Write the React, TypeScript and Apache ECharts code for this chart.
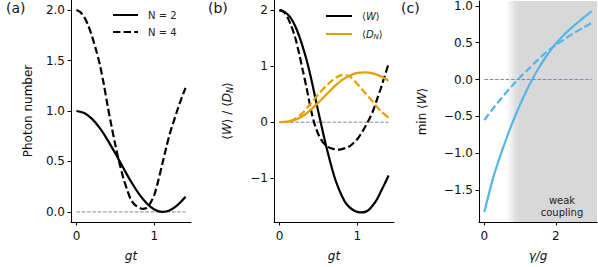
import React, { useEffect, useRef } from "react";
import * as echarts from "echarts";

// ---- data ----
const gtCoarse = [0, 0.1, 0.2, 0.3, 0.4, 0.5, 0.6, 0.7, 0.8, 0.9, 1.0, 1.1, 1.2, 1.3, 1.4];
const gtFine = [
  0, 0.05, 0.1, 0.15, 0.2, 0.25, 0.3, 0.35, 0.4, 0.45, 0.5, 0.55, 0.6, 0.65, 0.7,
  0.75, 0.8, 0.85, 0.9, 0.95, 1.0, 1.05, 1.1, 1.15, 1.2, 1.25, 1.3, 1.35, 1.4,
];

// (a) photon number
const photonN2 = [1.0, 0.98, 0.922, 0.83, 0.712, 0.578, 0.437, 0.301, 0.181, 0.086, 0.024, 0.0, 0.016, 0.07, 0.15];
const photonN4 = [
  2.0, 1.98, 1.93, 1.85, 1.74, 1.61, 1.46, 1.27, 1.05, 0.85, 0.66, 0.49, 0.34, 0.22, 0.12,
  0.07, 0.045, 0.03, 0.04, 0.09, 0.17, 0.31, 0.47, 0.63, 0.78, 0.9, 1.02, 1.13, 1.23,
];

// (b) <W> (fine grid) and <D_N> (coarse grid)
const wN2 = [
  2.0, 1.98, 1.93, 1.85, 1.72, 1.55, 1.34, 1.1, 0.82, 0.5, 0.18, -0.13, -0.43, -0.7, -0.95,
  -1.15, -1.31, -1.44, -1.52, -1.57, -1.6, -1.61, -1.6, -1.56, -1.48, -1.38, -1.24, -1.1, -0.95,
];
const wN4 = [
  2.0, 1.97, 1.88, 1.72, 1.52, 1.24, 0.92, 0.6, 0.25, -0.03, -0.22, -0.34, -0.42, -0.46, -0.48,
  -0.49, -0.48, -0.46, -0.43, -0.37, -0.3, -0.2, -0.08, 0.05, 0.2, 0.4, 0.6, 0.82, 1.04,
];
const dN2 = [0, 0.01, 0.04, 0.11, 0.22, 0.35, 0.49, 0.63, 0.75, 0.83, 0.88, 0.89, 0.87, 0.82, 0.74];
const dN4 = [0, 0.01, 0.06, 0.17, 0.33, 0.5, 0.65, 0.77, 0.84, 0.82, 0.68, 0.52, 0.36, 0.2, 0.08];

// (c) min <W> vs gamma/g
const gammaX = [0, 0.25, 0.5, 0.75, 1.0, 1.25, 1.5, 1.75, 2.0, 2.25, 2.5, 2.75, 3.0];
const minWN2 = [-1.8, -1.33, -0.96, -0.63, -0.34, -0.08, 0.14, 0.33, 0.49, 0.62, 0.73, 0.83, 0.93];
const minWN4 = [-0.55, -0.39, -0.24, -0.1, 0.03, 0.15, 0.27, 0.38, 0.47, 0.55, 0.63, 0.7, 0.77];

const weakStart = 0.93;
const fadeStart = 0.62;

// ---- ticks ----
const ticksA = [0, 0.5, 1, 1.5, 2];
const ticksB = [-1, 0, 1, 2];
const ticksC = [-1.5, -1, -0.5, 0, 0.5, 1];
const ticksGt = [0, 1];
const ticksGamma = [0, 2];

const pairs = (xs: number[], ys: number[]) => xs.map((x, i) => [x, ys[i]]);
const minus = (s: string) => s.replace("-", "\u2212");

const FONT = "DejaVu Sans";
const BLACK = "#000000";
const ORANGE = "#E69F00";
const BLUE = "#56B4E9";
const ZERO = "#7a8ba8";

export default function App() {
  const ref = useRef<HTMLDivElement>(null);

  useEffect(() => {
    if (!ref.current) return;
    const chart = echarts.init(ref.current, undefined, { renderer: "svg" });

    const axisBase = {
      axisLine: { show: true, onZero: false, lineStyle: { color: BLACK, width: 1 } },
      axisTick: { show: true, length: 3.5, lineStyle: { color: BLACK, width: 1 } },
      splitLine: { show: false },
    };
    const labelBase = { fontSize: 12, color: "#111", fontFamily: FONT };

    const xAxisOf = (idx: number, min: number, max: number, ticks: number[], name: string) => ({
      type: "value",
      gridIndex: idx,
      min,
      max,
      ...axisBase,
      axisTick: { ...axisBase.axisTick, customValues: ticks },
      axisLabel: { ...labelBase, margin: 8, customValues: ticks, formatter: (v: number) => minus(String(v)) },
      name,
      nameLocation: "middle",
      nameGap: 28,
      nameTextStyle: { fontSize: 12, fontStyle: "italic", fontFamily: FONT, color: "#111" },
    });

    const yAxisOf = (
      idx: number,
      min: number,
      max: number,
      ticks: number[],
      fmt: (v: number) => string,
      name: string,
      gap: number
    ) => ({
      type: "value",
      gridIndex: idx,
      min,
      max,
      ...axisBase,
      axisTick: { ...axisBase.axisTick, customValues: ticks },
      axisLabel: { ...labelBase, margin: 6, customValues: ticks, formatter: fmt },
      name,
      nameLocation: "middle",
      nameGap: gap,
      nameTextStyle: {
        fontSize: 12,
        fontFamily: FONT,
        color: "#111",
        rich: {
          i: { fontSize: 12, fontStyle: "italic", fontFamily: FONT, color: "#111" },
          s: { fontSize: 8, fontStyle: "italic", fontFamily: FONT, color: "#111", verticalAlign: "bottom", padding: [6, 0, 0, 0] },
        },
      },
    });

    const line = (name: string, x: number, data: number[][], color: string, dashed: boolean) => ({
      name,
      type: "line",
      xAxisIndex: x,
      yAxisIndex: x,
      data,
      showSymbol: false,
      symbol: "none",
      smooth: 0.3,
      z: 3,
      lineStyle: { color, width: 2.2, type: dashed ? [7.4, 3.2] : "solid" },
      itemStyle: { color },
    });

    const zeroLine = (x: number, xmax: number, extra: any = {}) => ({
      name: "zero" + x,
      type: "line",
      xAxisIndex: x,
      yAxisIndex: x,
      data: [
        [0, 0],
        [xmax, 0],
      ],
      showSymbol: false,
      symbol: "none",
      z: 2,
      silent: true,
      lineStyle: { color: ZERO, width: 1, type: [3.7, 1.6] },
      ...extra,
    });

    const legendText = { fontSize: 10, fontFamily: FONT, color: "#222", padding: [0, 0, 0, 5] };

    chart.setOption({
      animation: false,
      textStyle: { fontFamily: FONT },
      grid: [
        { left: 71, top: 0, width: 120, height: 224 },
        { left: 274, top: 0, width: 120, height: 224 },
        { left: 479, top: 0, width: 118, height: 224 },
      ],
      xAxis: [
        xAxisOf(0, -0.07, 1.47, ticksGt, "gt"),
        xAxisOf(1, -0.07, 1.47, ticksGt, "gt"),
        xAxisOf(2, -0.15, 3.15, ticksGamma, "\u03b3/g"),
      ],
      yAxis: [
        yAxisOf(0, -0.1, 2.1, ticksA, (v) => v.toFixed(1), "Photon number", 37),
        yAxisOf(1, -1.78, 2.18, ticksB, (v) => minus(String(v)), "\u27e8{i|W}\u27e9 / \u27e8{i|D}{s|N}\u27e9", 40),
        yAxisOf(2, -1.9365, 1.0665, ticksC, (v) => minus(v.toFixed(1)), "min \u27e8{i|W}\u27e9", 51),
      ],
      legend: [
        {
          data: ["N = 2", "N = 4"],
          orient: "vertical",
          left: 112,
          top: 10,
          padding: 0,
          itemWidth: 25,
          itemHeight: 10,
          itemGap: 7,
          itemStyle: { opacity: 0 },
          textStyle: legendText,
        },
        {
          data: ["\u27e8W\u27e9", "\u27e8D_N\u27e9"],
          orient: "vertical",
          left: 325,
          top: 11,
          padding: 0,
          itemWidth: 26,
          itemHeight: 10,
          itemGap: 8,
          itemStyle: { opacity: 0 },
          formatter: (n: string) => (n === "\u27e8W\u27e9" ? "\u27e8{i|W}\u27e9" : "\u27e8{i|D}{s|N}\u27e9"),
          textStyle: {
            ...legendText,
            rich: {
              i: { fontSize: 10, fontStyle: "italic", fontFamily: FONT, color: "#222" },
              s: { fontSize: 7, fontStyle: "italic", fontFamily: FONT, color: "#222", verticalAlign: "bottom", padding: [5, 0, 0, 0] },
            },
          },
        },
      ],
      series: [
        zeroLine(0, 1.4),
        line("N = 2", 0, pairs(gtCoarse, photonN2), BLACK, false),
        line("N = 4", 0, pairs(gtFine, photonN4), BLACK, true),

        zeroLine(1, 1.4),
        line("\u27e8W\u27e9", 1, pairs(gtFine, wN2), BLACK, false),
        line("W4", 1, pairs(gtFine, wN4), BLACK, true),
        line("\u27e8D_N\u27e9", 1, pairs(gtCoarse, dN2), ORANGE, false),
        line("D4", 1, pairs(gtCoarse, dN4), ORANGE, true),

        zeroLine(2, 3.0, {
          markArea: {
            silent: true,
            data: [
              [
                {
                  xAxis: fadeStart,
                  itemStyle: {
                    color: new echarts.graphic.LinearGradient(0, 0, 1, 0, [
                      { offset: 0, color: "rgba(216,216,216,0)" },
                      { offset: 1, color: "rgba(216,216,216,1)" },
                    ]),
                  },
                },
                { xAxis: weakStart },
              ],
              [{ xAxis: weakStart, itemStyle: { color: "#d8d8d8" } }, { xAxis: 3.15 }],
            ],
          },
        }),
        line("minN2", 2, pairs(gammaX, minWN2), BLUE, false),
        line("minN4", 2, pairs(gammaX, minWN4), BLUE, true),
      ],
      graphic: [
        { type: "text", z: 100, left: 6, top: 1, style: { text: "(a)", fontSize: 14, fontFamily: FONT, fill: "#111" } },
        { type: "text", z: 100, left: 208, top: 1, style: { text: "(b)", fontSize: 14, fontFamily: FONT, fill: "#111" } },
        { type: "text", z: 100, left: 401, top: 1, style: { text: "(c)", fontSize: 14, fontFamily: FONT, fill: "#111" } },
        {
          type: "text",
          z: 100,
          x: 562,
          y: 194,
          style: {
            text: "weak\ncoupling",
            fontSize: 10,
            lineHeight: 12,
            fontFamily: FONT,
            fill: "#222",
            align: "center",
            verticalAlign: "top",
          },
        },
      ],
    });

    return () => chart.dispose();
  }, []);

  return <div ref={ref} style={{ width: 598, height: 267, position: "absolute", left: 0, top: 0 }} />;
}
